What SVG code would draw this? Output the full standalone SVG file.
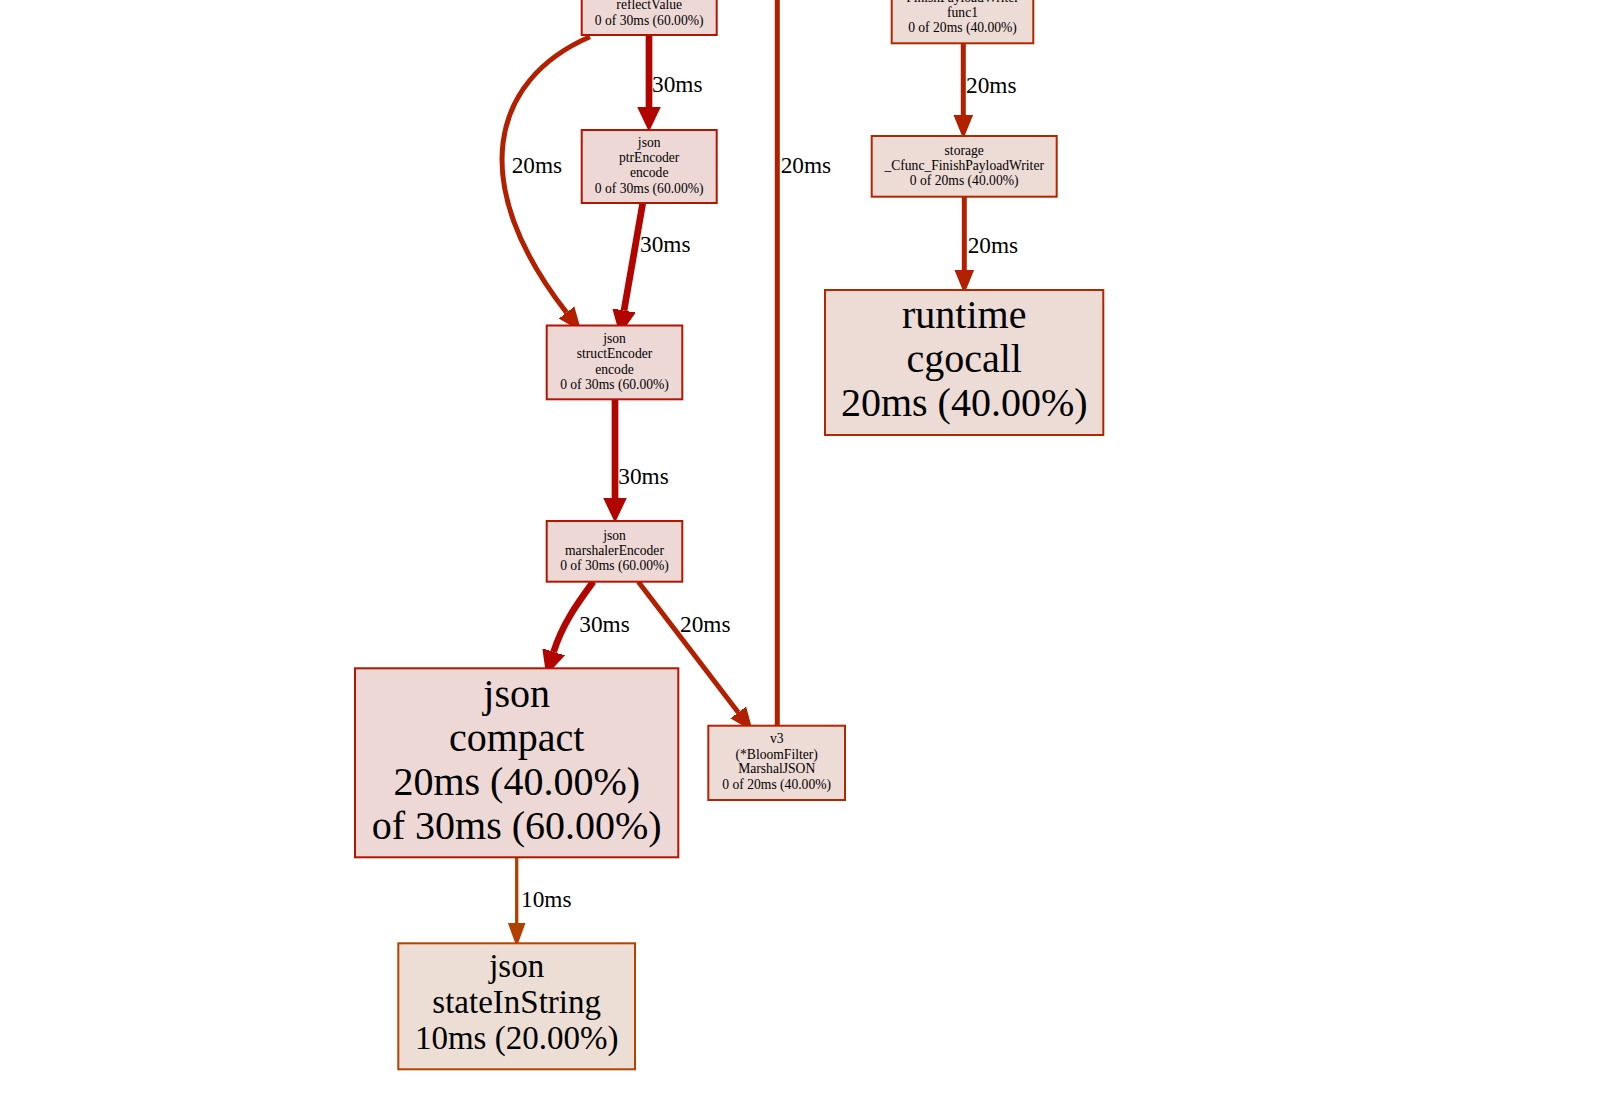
<svg xmlns="http://www.w3.org/2000/svg" width="1602" height="1110" viewBox="0 0 1602 1110">
<style>
.n rect{stroke-width:2}
.p60 rect{fill:#edd8d5;stroke:#b21500}
.p40 rect{fill:#eddbd5;stroke:#b22600}
.p20 rect{fill:#edded5;stroke:#b24400}
text{font-family:"Liberation Serif","Times New Roman",serif;fill:#000}
.s{font-size:13.6px;text-anchor:middle}
.b{font-size:40px;text-anchor:middle}
.m{font-size:33px;text-anchor:middle}
.l{font-size:23.3px}
.e{fill:none}
.w30{stroke:#b20500;stroke-width:6.7}
.w20{stroke:#b22000;stroke-width:5}
.w10{stroke:#b24000;stroke-width:3.3}
</style>
<defs>
<marker id="a30" markerUnits="userSpaceOnUse" viewBox="0 -13 26 26" refX="0" refY="0" markerWidth="26" markerHeight="26" orient="auto">
<path d="M0,-11 L23,0 L0,11 Z" fill="#b20500" stroke="#b20500" stroke-width="1.5"/>
</marker>
<marker id="a20" markerUnits="userSpaceOnUse" viewBox="0 -13 26 26" refX="0" refY="0" markerWidth="26" markerHeight="26" orient="auto">
<path d="M0,-9 L22,0 L0,9 Z" fill="#b22000" stroke="#b22000" stroke-width="1.5"/>
</marker>
<marker id="a10" markerUnits="userSpaceOnUse" viewBox="0 -13 26 26" refX="0" refY="0" markerWidth="26" markerHeight="26" orient="auto">
<path d="M0,-8 L22,0 L0,8 Z" fill="#b24000" stroke="#b24000" stroke-width="1.5"/>
</marker>
</defs>

<g id="edges">
<g id="e-reflect-ptr"><path class="e w30" d="M649,35 L649,107" marker-end="url(#a30)"/><text class="l" x="652" y="92">30ms</text></g>
<g id="e-reflect-struct"><path class="e w20" d="M590,36.7 C490,80 466,184 566.6,312.6" marker-end="url(#a20)"/><text class="l" x="511.7" y="173.3">20ms</text></g>
<g id="e-v3-up"><path class="e w20" d="M777.3,726 L777.3,-10"/><text class="l" x="780.7" y="173.3">20ms</text></g>
<g id="e-func1-storage"><path class="e w20" d="M963.3,43.3 L963.3,115" marker-end="url(#a20)"/><text class="l" x="966" y="92.7">20ms</text></g>
<g id="e-ptr-struct"><path class="e w30" d="M642.7,203.3 L624,310.6" marker-end="url(#a30)"/><text class="l" x="640" y="252.3">30ms</text></g>
<g id="e-marshaler-compact"><path class="e w30" d="M593.3,581.7 C580,600 563,622 553.6,652" marker-end="url(#a30)"/><text class="l" x="579.3" y="631.7">30ms</text></g>
<g id="e-struct-marshaler"><path class="e w30" d="M615,399.3 L615,498" marker-end="url(#a30)"/><text class="l" x="618.3" y="484">30ms</text></g>
<g id="e-marshaler-v3"><path class="e w20" d="M638.3,581.7 L738.3,712.5" marker-end="url(#a20)"/><text class="l" x="680" y="631.7">20ms</text></g>
<g id="e-compact-state"><path class="e w10" d="M516.7,857.3 L516.7,923" marker-end="url(#a10)"/><text class="l" x="521" y="906.7">10ms</text></g>
<g id="e-storage-runtime"><path class="e w20" d="M964.3,196.7 L964.3,270" marker-end="url(#a20)"/><text class="l" x="967.7" y="253.3">20ms</text></g>
</g>

<g id="n-reflectValue" class="n p60"><rect x="581.7" y="-38" width="135" height="73"/>
<text class="s" x="649.2" y="8.7">reflectValue</text><text class="s" x="649.2" y="24.7">0 of 30ms (60.00%)</text></g>

<g id="n-ptrEncoder" class="n p60"><rect x="581.7" y="130" width="135" height="73"/>
<text class="s" x="649.2" y="146.7">json</text><text class="s" x="649.2" y="161.7">ptrEncoder</text><text class="s" x="649.2" y="176.7">encode</text><text class="s" x="649.2" y="192.7">0 of 30ms (60.00%)</text></g>

<g id="n-structEncoder" class="n p60"><rect x="546.7" y="325.5" width="135.6" height="73.8"/>
<text class="s" x="614.5" y="343">json</text><text class="s" x="614.5" y="358">structEncoder</text><text class="s" x="614.5" y="373.5">encode</text><text class="s" x="614.5" y="389">0 of 30ms (60.00%)</text></g>

<g id="n-marshalerEncoder" class="n p60"><rect x="546.7" y="521" width="135.6" height="60.7"/>
<text class="s" x="614.5" y="540">json</text><text class="s" x="614.5" y="555">marshalerEncoder</text><text class="s" x="614.5" y="570">0 of 30ms (60.00%)</text></g>

<g id="n-compact" class="n p60"><rect x="355" y="668.3" width="323.3" height="189"/>
<text class="b" x="516.7" y="707">json</text><text class="b" x="516.7" y="751">compact</text><text class="b" x="516.7" y="795">20ms (40.00%)</text><text class="b" x="516.7" y="838.5">of 30ms (60.00%)</text></g>

<g id="n-stateInString" class="n p20"><rect x="398.3" y="943.3" width="236.7" height="126"/>
<text class="m" x="516.7" y="977">json</text><text class="m" x="516.7" y="1013">stateInString</text><text class="m" x="516.7" y="1048.5">10ms (20.00%)</text></g>

<g id="n-func1" class="n p40"><rect x="891.7" y="-30" width="141.6" height="73.3"/>
<text class="s" x="962.5" y="1.7">FinishPayloadWriter</text><text class="s" x="962.5" y="16.7">func1</text><text class="s" x="962.5" y="31.7">0 of 20ms (40.00%)</text></g>

<g id="n-storage" class="n p40"><rect x="871.7" y="136" width="185" height="60.7"/>
<text class="s" x="964.2" y="155">storage</text><text class="s" x="964.2" y="169.8">_Cfunc_FinishPayloadWriter</text><text class="s" x="964.2" y="184.5">0 of 20ms (40.00%)</text></g>

<g id="n-cgocall" class="n p40"><rect x="825" y="290" width="278.3" height="145"/>
<text class="b" x="964.2" y="328.3">runtime</text><text class="b" x="964.2" y="372">cgocall</text><text class="b" x="964.2" y="416">20ms (40.00%)</text></g>

<g id="n-v3" class="n p40"><rect x="708.3" y="725.7" width="136.7" height="74.3"/>
<text class="s" x="776.7" y="743">v3</text><text class="s" x="776.7" y="758.5">(*BloomFilter)</text><text class="s" x="776.7" y="773.3">MarshalJSON</text><text class="s" x="776.7" y="788.7">0 of 20ms (40.00%)</text></g>
</svg>
